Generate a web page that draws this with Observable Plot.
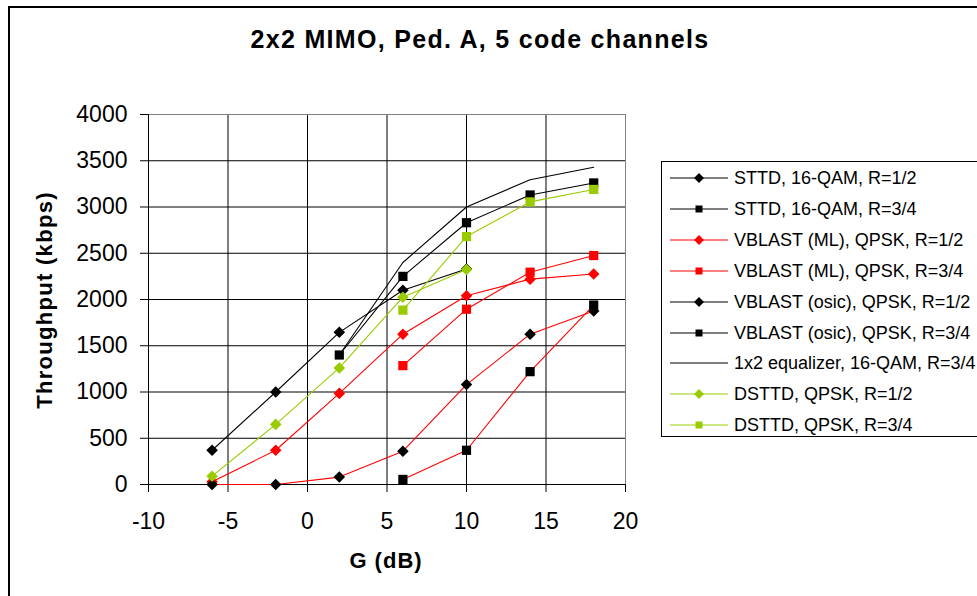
<!DOCTYPE html>
<html>
<head>
<meta charset="utf-8">
<script src="https://cdn.jsdelivr.net/npm/d3@7"></script>
<script src="https://cdn.jsdelivr.net/npm/@observablehq/plot@0.6"></script>
<style>
  html, body { margin: 0; padding: 0; background: #fff; }
  #wrap { position: relative; width: 977px; height: 596px; overflow: hidden; font-family: "Liberation Sans", Arial, sans-serif; }
  #border { position: absolute; left: 8px; top: 6px; width: 1000px; height: 700px; border-left: 2px solid #000; border-top: 2px solid #000; }
  #title { position: absolute; left: 0; width: 960px; top: 27px; text-align: center; font-weight: bold; font-size: 25px; line-height: 25px; letter-spacing: 1.3px; }
  #xlabel { position: absolute; left: 286px; width: 200px; top: 550px; text-align: center; font-weight: bold; font-size: 22px; line-height: 22px; letter-spacing: 1px; }
  #ylabel { position: absolute; left: -105px; top: 289px; width: 300px; text-align: center; font-weight: bold; font-size: 22px; line-height: 22px; letter-spacing: 1.3px; transform: rotate(-90deg); }
  #legend { position: absolute; left: 661px; top: 161px; width: 340px; height: 274px; border: 1px solid #000; background: #fff; }
  .row { position: absolute; left: 0; height: 20px; }
  .row svg { position: absolute; left: 8px; top: 0; }
  .row span { position: absolute; left: 72px; top: 0; font-size: 18px; line-height: 20px; white-space: nowrap; }
  #plot { position: absolute; left: 0; top: 0; }
</style>
</head>
<body>
<div id="wrap">
  <div id="border"></div>
  <div id="plot"></div>
  <div id="title">2x2 MIMO, Ped. A, 5 code channels</div>
  <div id="xlabel">G (dB)</div>
  <div id="ylabel">Throughput (kbps)</div>
  <div id="legend"></div>
</div>
<script>
// ---- data ----
const G = [-6, -2, 2, 6, 10, 14, 18];
const xTicks = [-10, -5, 0, 5, 10, 15, 20];
const yTicks = [0, 500, 1000, 1500, 2000, 2500, 3000, 3500, 4000];

const seriesNames = [
  "STTD, 16-QAM, R=1/2",
  "STTD, 16-QAM, R=3/4",
  "VBLAST (ML), QPSK, R=1/2",
  "VBLAST (ML), QPSK, R=3/4",
  "VBLAST (osic), QPSK, R=1/2",
  "VBLAST (osic), QPSK, R=3/4",
  "1x2 equalizer, 16-QAM, R=3/4",
  "DSTTD, QPSK, R=1/2",
  "DSTTD, QPSK, R=3/4"
];

const sttd12   = [370, 1000, 1645, 2100, 2330, null, null];
const sttd34   = [null, null, 1400, 2250, 2830, 3130, 3260];
const ml12     = [30, 370, 985, 1625, 2040, 2220, 2275];
const ml34     = [null, null, null, 1285, 1895, 2295, 2475];
const osic12   = [0, 0, 80, 360, 1080, 1625, 1875];
const osic34   = [null, null, null, 55, 370, 1220, 1940];
const eq34     = [null, null, 1400, 2400, 3000, 3295, 3430];
const dsttd12  = [90, 650, 1260, 2025, 2325, null, null];
const dsttd34  = [null, null, null, 1885, 2680, 3055, 3190];

const seriesValues = [sttd12, sttd34, ml12, ml34, osic12, osic34, eq34, dsttd12, dsttd34];

// ---- styles ----
const lineColors   = ["#000000", "#000000", "#ff0000", "#ff0000", "#ff0000", "#ff0000", "#000000", "#99cc00", "#99cc00"];
const legendLine   = ["#000000", "#000000", "#ff0000", "#ff0000", "#000000", "#000000", "#000000", "#99cc00", "#99cc00"];
const markerColors = ["#000000", "#000000", "#ff0000", "#ff0000", "#000000", "#000000", null, "#99cc00", "#99cc00"];
const markerShapes = ["diamond2", "square", "diamond2", "square", "diamond2", "square", null, "diamond2", "square"];

const rows = [];
seriesNames.forEach((name, i) => {
  seriesValues[i].forEach((v, j) => {
    if (v != null) rows.push({series: name, idx: i, G: G[j], v});
  });
});

const marks = [
  Plot.gridX([-5, 0, 5, 10, 15], {stroke: "#000", strokeOpacity: 1}),
  Plot.gridY([500, 1000, 1500, 2000, 2500, 3000, 3500], {stroke: "#000", strokeOpacity: 1}),
  Plot.frame({stroke: "#808080"}),
  Plot.ruleY([0], {stroke: "#000"}),
  Plot.ruleX([-10], {stroke: "#000"}),
  Plot.axisX({ticks: xTicks, tickSize: 8, tickPadding: 20, fontSize: 23, label: null, tickFormat: d => String(d)}),
  Plot.axisY({ticks: yTicks, tickSize: 8, tickPadding: 13, fontSize: 23, label: null, tickFormat: d => String(d)})
];

seriesNames.forEach((name, i) => {
  const d = rows.filter(r => r.idx === i);
  marks.push(Plot.line(d, {x: "G", y: "v", stroke: lineColors[i], strokeWidth: 1.1}));
  if (markerShapes[i]) {
    marks.push(Plot.dot(d, {x: "G", y: "v", symbol: markerShapes[i], fill: markerColors[i], r: 5.2}));
  }
});

const chart = Plot.plot({
  width: 977,
  height: 596,
  marginLeft: 148,
  marginRight: 352,
  marginTop: 114,
  marginBottom: 112,
  x: {domain: [-10, 20]},
  y: {domain: [0, 4000]},
  style: {fontFamily: "'Liberation Sans', Arial, sans-serif", color: "#000", background: "transparent"},
  marks
});
document.getElementById("plot").appendChild(chart);

// ---- legend ----
const legend = document.getElementById("legend");
seriesNames.forEach((name, i) => {
  const row = document.createElement("div");
  row.className = "row";
  row.style.top = (6 + i * 30.9) + "px";
  const ns = "http://www.w3.org/2000/svg";
  const svg = document.createElementNS(ns, "svg");
  svg.setAttribute("width", "60");
  svg.setAttribute("height", "20");
  const ln = document.createElementNS(ns, "line");
  ln.setAttribute("x1", 0); ln.setAttribute("x2", 58);
  ln.setAttribute("y1", 10); ln.setAttribute("y2", 10);
  ln.setAttribute("stroke", legendLine[i]);
  ln.setAttribute("stroke-width", 1.2);
  svg.appendChild(ln);
  if (markerShapes[i] === "square") {
    const r = document.createElementNS(ns, "rect");
    r.setAttribute("x", 29 - 3.5); r.setAttribute("y", 10 - 3.5);
    r.setAttribute("width", 7); r.setAttribute("height", 7);
    r.setAttribute("fill", markerColors[i]);
    svg.appendChild(r);
  } else if (markerShapes[i]) {
    const p = document.createElementNS(ns, "path");
    p.setAttribute("d", "M29,5L34,10L29,15L24,10Z");
    p.setAttribute("fill", markerColors[i]);
    svg.appendChild(p);
  }
  row.appendChild(svg);
  const sp = document.createElement("span");
  sp.textContent = name;
  row.appendChild(sp);
  legend.appendChild(row);
});
</script>
</body>
</html>
